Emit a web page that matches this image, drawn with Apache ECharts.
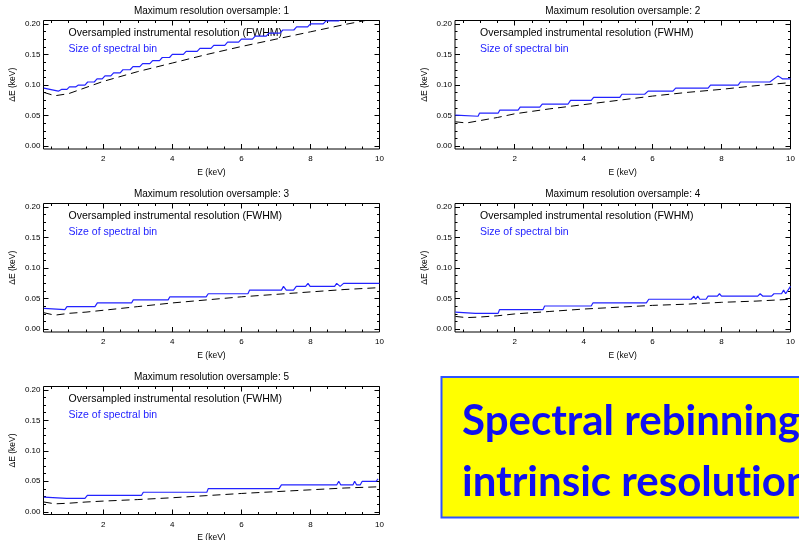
<!DOCTYPE html>
<html><head><meta charset="utf-8">
<script src="https://cdn.jsdelivr.net/npm/echarts@6/dist/echarts.min.js"></script>
<style>html,body{margin:0;padding:0;background:#fff}#c{width:799px;height:540px}</style>
</head><body><div id="c"></div>
<script>
// ---- tick values ----
const xMajorTicks = [2, 4, 6, 8, 10];
const xMinorTicks = [0.5, 1, 1.5, 2.5, 3, 3.5, 4.5, 5, 5.5, 6.5, 7, 7.5, 8.5, 9, 9.5];
const yMajorTicks = [0, 0.05, 0.10, 0.15, 0.20];
const yMinorTicks = [0.0125, 0.025, 0.0375, 0.0625, 0.075, 0.0875, 0.1125, 0.125, 0.1375, 0.1625, 0.175, 0.1875];

const panelTitles = [
  'Maximum resolution oversample: 1',
  'Maximum resolution oversample: 2',
  'Maximum resolution oversample: 3',
  'Maximum resolution oversample: 4',
  'Maximum resolution oversample: 5'
];
const legendFwhm = 'Oversampled instrumental resolution (FWHM)';
const legendBin = 'Size of spectral bin';
const xName = 'E (keV)';
const yName = '\u0394E (keV)';
const boxLine1 = ['Spectral rebinning'];
const boxLine2 = ['intrinsic resolut', 'ion'];  // split only to avoid the font's "ti" ligature

// ---- FWHM (dashed) ----
const fwhmE = [0.28, 0.6, 1, 1.5, 2, 3, 4, 5, 6, 7, 8, 9, 10];
const fwhm1 = [0.088, 0.0825, 0.086, 0.096, 0.106, 0.122, 0.136, 0.150, 0.163, 0.175, 0.187, 0.199, 0.210];
const fwhm2 = [0.040, 0.038, 0.042, 0.047, 0.053, 0.061, 0.068, 0.075, 0.082, 0.088, 0.093, 0.099, 0.104];
const fwhm3 = [0.027, 0.023, 0.026, 0.028, 0.031, 0.037, 0.043, 0.048, 0.053, 0.057, 0.061, 0.065, 0.068];
const fwhm4 = [0.021, 0.019, 0.020, 0.022, 0.025, 0.029, 0.033, 0.036, 0.039, 0.041, 0.044, 0.046, 0.049];
const fwhm5 = [0.016, 0.013, 0.014, 0.016, 0.0175, 0.020, 0.023, 0.0265, 0.030, 0.033, 0.036, 0.039, 0.041];

// ---- spectral bin size (blue) ----
const bin1E = [0.28, 0.70, 0.80, 0.95, 1.02, 1.20, 1.28, 1.47, 1.55, 1.74, 1.82, 1.97, 2.05, 2.22, 2.30, 2.49, 2.57, 2.78, 2.86, 3.06, 3.14, 3.35, 3.43, 3.63, 3.71, 3.92, 4.00, 4.32, 4.40, 4.72, 4.80, 5.12, 5.20, 5.52, 5.60, 5.92, 6.00, 6.32, 6.40, 6.72, 6.80, 7.12, 7.20, 7.52, 7.60, 7.92, 8.00, 8.37, 8.45, 8.82, 8.90];
const bin1W = [0.095, 0.090, 0.093, 0.093, 0.097, 0.097, 0.100, 0.100, 0.105, 0.105, 0.110, 0.110, 0.115, 0.115, 0.120, 0.120, 0.125, 0.125, 0.130, 0.130, 0.135, 0.135, 0.140, 0.140, 0.145, 0.145, 0.150, 0.150, 0.155, 0.155, 0.160, 0.160, 0.165, 0.165, 0.170, 0.170, 0.175, 0.175, 0.180, 0.180, 0.185, 0.185, 0.190, 0.190, 0.195, 0.195, 0.200, 0.200, 0.205, 0.205, 0.210];
const bin2E = [0.28, 0.94, 0.98, 1.52, 1.57, 2.10, 2.16, 2.73, 2.80, 3.55, 3.62, 4.22, 4.29, 5.05, 5.11, 5.77, 5.87, 6.59, 6.67, 7.61, 7.68, 8.48, 8.55, 9.40, 9.64, 9.77, 10.0];
const bin2W = [0.051, 0.049, 0.054, 0.054, 0.059, 0.059, 0.064, 0.064, 0.069, 0.069, 0.075, 0.075, 0.080, 0.080, 0.085, 0.085, 0.090, 0.090, 0.095, 0.095, 0.100, 0.100, 0.105, 0.105, 0.115, 0.110, 0.110];
const bin3E = [0.28, 0.89, 0.95, 1.76, 1.83, 2.82, 2.87, 3.88, 3.93, 4.98, 5.04, 6.19, 6.24, 7.16, 7.22, 7.30, 7.51, 7.59, 7.86, 7.93, 7.99, 8.70, 8.76, 8.86, 8.96, 10.0];
const bin3W = [0.034, 0.032, 0.037, 0.037, 0.043, 0.043, 0.048, 0.048, 0.053, 0.053, 0.058, 0.058, 0.064, 0.064, 0.070, 0.064, 0.064, 0.070, 0.070, 0.075, 0.070, 0.070, 0.075, 0.070, 0.075, 0.075];
const bin4E = [0.28, 0.86, 1.52, 1.56, 2.82, 2.87, 4.22, 4.27, 5.82, 5.89, 7.12, 7.20, 7.25, 7.31, 7.37, 7.55, 7.61, 7.88, 7.94, 8.00, 9.05, 9.12, 9.20, 9.45, 9.52, 9.74, 9.80, 9.86, 10.0];
const bin4W = [0.028, 0.026, 0.026, 0.032, 0.032, 0.038, 0.038, 0.043, 0.043, 0.049, 0.049, 0.054, 0.049, 0.054, 0.049, 0.049, 0.054, 0.054, 0.058, 0.054, 0.054, 0.058, 0.054, 0.054, 0.058, 0.058, 0.064, 0.058, 0.070];
const bin5E = [0.28, 0.94, 1.47, 1.54, 3.11, 3.16, 5.00, 5.04, 7.09, 7.16, 8.76, 8.82, 8.88, 9.23, 9.28, 9.34, 9.44, 9.50, 9.90, 9.96];
const bin5W = [0.024, 0.022, 0.022, 0.027, 0.027, 0.032, 0.032, 0.038, 0.038, 0.044, 0.044, 0.050, 0.044, 0.044, 0.050, 0.044, 0.044, 0.050, 0.050, 0.054];

const fwhmSets = [fwhm1, fwhm2, fwhm3, fwhm4, fwhm5];
const binSets = [[bin1E, bin1W], [bin2E, bin2W], [bin3E, bin3W], [bin4E, bin4W], [bin5E, bin5W]];

// ---- layout / style ----
const X_MIN = 0.27, X_MAX = 10, Y_MIN = -0.0045, Y_MAX = 0.2055;
const FONT = '"Liberation Sans", Arial, Helvetica, sans-serif';
const BLUE = '#2323ff';
const grids = [
  {left: 43.5, top: 20.5, width: 336, height: 128.5},
  {left: 455, top: 20.5, width: 335.5, height: 128.5},
  {left: 43.5, top: 203.5, width: 336, height: 128.5},
  {left: 455, top: 203.5, width: 335.5, height: 128.5},
  {left: 43.5, top: 386.5, width: 336, height: 128}
];

const zip = (a, b) => a.map((v, i) => [v, b[i]]);

const xAxes = [], yAxes = [], series = [], graphics = [];
grids.forEach((g, i) => {
  const common = {gridIndex: i, type: 'value', splitLine: {show: false},
    axisLine: {show: false, onZero: false}};
  const tickStyle = {color: '#000', width: 1};
  xAxes.push(Object.assign({}, common, {min: X_MIN, max: X_MAX, position: 'bottom',
    axisTick: {show: true, inside: true, length: 5, customValues: xMajorTicks, lineStyle: tickStyle},
    axisLabel: {show: true, customValues: xMajorTicks, fontSize: 8, color: '#000', fontFamily: FONT, margin: 6},
    name: xName, nameLocation: 'middle', nameGap: 19,
    nameTextStyle: {fontSize: 8.5, color: '#000', fontFamily: FONT}}));
  xAxes.push(Object.assign({}, common, {min: X_MIN, max: X_MAX, position: 'bottom',
    axisTick: {show: true, inside: true, length: 2.5, customValues: xMinorTicks, lineStyle: tickStyle},
    axisLabel: {show: false}}));
  xAxes.push(Object.assign({}, common, {min: X_MIN, max: X_MAX, position: 'top',
    axisTick: {show: true, inside: true, length: 5, customValues: xMajorTicks, lineStyle: tickStyle},
    axisLabel: {show: false}}));
  xAxes.push(Object.assign({}, common, {min: X_MIN, max: X_MAX, position: 'top',
    axisTick: {show: true, inside: true, length: 2.5, customValues: xMinorTicks, lineStyle: tickStyle},
    axisLabel: {show: false}}));
  yAxes.push(Object.assign({}, common, {min: Y_MIN, max: Y_MAX, position: 'left',
    axisTick: {show: true, inside: true, length: 5, customValues: yMajorTicks, lineStyle: tickStyle},
    axisLabel: {show: true, customValues: yMajorTicks, fontSize: 8, color: '#000', fontFamily: FONT, margin: 3,
      formatter: v => Number(v).toFixed(2)},
    name: yName, nameLocation: 'middle', nameGap: 26,
    nameTextStyle: {fontSize: 8.5, color: '#000', fontFamily: FONT}}));
  yAxes.push(Object.assign({}, common, {min: Y_MIN, max: Y_MAX, position: 'left',
    axisTick: {show: true, inside: true, length: 2.5, customValues: yMinorTicks, lineStyle: tickStyle},
    axisLabel: {show: false}}));
  yAxes.push(Object.assign({}, common, {min: Y_MIN, max: Y_MAX, position: 'right',
    axisTick: {show: true, inside: true, length: 5, customValues: yMajorTicks, lineStyle: tickStyle},
    axisLabel: {show: false}}));
  yAxes.push(Object.assign({}, common, {min: Y_MIN, max: Y_MAX, position: 'right',
    axisTick: {show: true, inside: true, length: 2.5, customValues: yMinorTicks, lineStyle: tickStyle},
    axisLabel: {show: false}}));

  series.push({type: 'line', xAxisIndex: i * 4, yAxisIndex: i * 4, data: zip(fwhmE, fwhmSets[i]),
    symbol: 'none', smooth: false, clip: true,
    lineStyle: {color: '#000', width: 1, type: [8, 5]}});
  series.push({type: 'line', xAxisIndex: i * 4, yAxisIndex: i * 4, data: zip(binSets[i][0], binSets[i][1]),
    symbol: 'none', smooth: false, clip: true,
    lineStyle: {color: BLUE, width: 1.2}});

  graphics.push({type: 'text', x: g.left + g.width / 2, y: g.top - 9,
    style: {text: panelTitles[i], fontSize: 10, fontFamily: FONT, fill: '#000', align: 'center', verticalAlign: 'middle'}});
  graphics.push({type: 'text', x: g.left + 25, y: g.top + 13,
    style: {text: legendFwhm, fontSize: 10.5, fontFamily: FONT, fill: '#000', align: 'left', verticalAlign: 'middle'}});
  graphics.push({type: 'text', x: g.left + 25, y: g.top + 29,
    style: {text: legendBin, fontSize: 10.5, fontFamily: FONT, fill: BLUE, align: 'left', verticalAlign: 'middle'}});
});

const boxFont = {fontSize: 42, fontFamily: 'Lato, sans-serif', fontWeight: 'bold', fill: '#1010f0'};
const richText = parts => parts.map(p => '{t|' + p + '}').join('');
graphics.push({type: 'rect', shape: {x: 441.5, y: 377, width: 380, height: 140.5},
  style: {fill: '#ffff00', stroke: '#2f54ff', lineWidth: 2}});
graphics.push({type: 'text', x: 462, y: 421,
  style: {text: richText(boxLine1), rich: {t: boxFont}, align: 'left', verticalAlign: 'middle'}});
graphics.push({type: 'text', x: 462, y: 482,
  style: {text: richText(boxLine2), rich: {t: boxFont}, align: 'left', verticalAlign: 'middle'}});

const chart = echarts.init(document.getElementById('c'), null, {renderer: 'canvas'});
chart.setOption({
  animation: false,
  backgroundColor: '#fff',
  grid: grids.map(g => Object.assign({show: true, borderColor: '#000', borderWidth: 1,
    backgroundColor: 'transparent', containLabel: false, outerBoundsMode: 'none'}, g)),
  xAxis: xAxes,
  yAxis: yAxes,
  series: series,
  graphic: graphics
});
</script></body></html>
